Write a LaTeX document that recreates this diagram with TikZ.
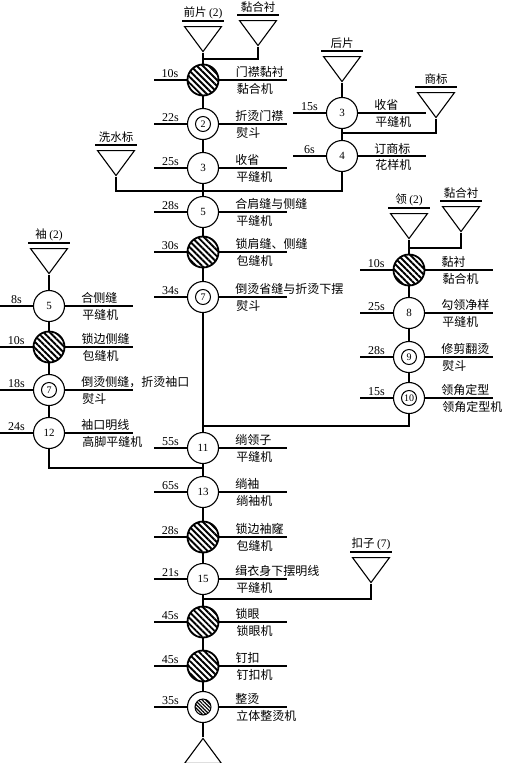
\documentclass[tikz,border=0pt]{standalone}
\usepackage{fontspec}
\setmainfont{Liberation Serif}
\newfontfamily\cjk{Noto Sans CJK SC}
\usepackage{tikz}
\usetikzlibrary{positioning,shapes.geometric,patterns.meta}

\newcommand{\station}[7]{%
  \node[#3] (#1) at (#2) {#4};
  \draw[rule] (#1.west) -- ++(-33,0) node[tm,midway,above] (#1t) {#5};
  \draw[rule] (#1.east) -- ++(68,0) node[opt,pos=0.21,above right] (#1o) {#6} node[opt,pos=0.21,below right,inner sep=2.5pt] (#1m) {#7};
}
\newcommand{\feed}[3]{%
  \node[feed,anchor=apex] (#1) at (#2) {};
  \draw[rule] ([shift={(-21pt,5pt)}]#1.lower side) -- ([shift={(21pt,5pt)}]#1.lower side) node[feedlab,midway,above] (#1l) {#3};
}

\begin{document}
\begin{tikzpicture}[x=1pt,y=-1pt,
  plain/.style={circle,draw,line width=1.1pt,minimum size=31pt,inner sep=0pt,fill=white,font=\fontsize{11}{11}\selectfont},
  hatch/.style={plain,line width=1.8pt,pattern={Lines[angle=-45,distance=4.3pt,line width=1.9pt]}},
  dbl/.style={plain,font=\fontsize{10}{10}\selectfont,path picture={\draw[line width=1pt] (path picture bounding box.center) circle (7.5pt);}},
  dblhatch/.style={plain,path picture={\draw[line width=1pt,pattern={Lines[angle=-45,distance=2.5pt,line width=1.2pt]}] (path picture bounding box.center) circle (8pt);}},
  feed/.style={isosceles triangle,isosceles triangle stretches,shape border rotate=-90,draw,line width=1.1pt,minimum width=37pt,minimum height=25pt,inner sep=0pt},
  rule/.style={line width=1.1pt},
  link/.style={line width=1.1pt},
  tm/.style={font=\fontsize{12}{12}\selectfont,inner sep=1.5pt},
  opt/.style={font=\cjk\fontsize{12}{12}\selectfont,inner sep=1.5pt},
  feedlab/.style={font=\cjk\fontsize{11.5}{12}\selectfont,inner sep=2pt}]
  \useasboundingbox (0,0) rectangle (504,763);

  \feed{f1}{203,53}{前片 {\rmfamily(2)}}
  \feed{f2}{258,47}{黏合衬}
  \feed{f3}{342,83}{后片}
  \feed{f4}{436,119}{商标}
  \feed{f5}{116,177}{洗水标}
  \feed{f6}{49,275}{袖 {\rmfamily(2)}}
  \feed{f7}{409,240}{领 {\rmfamily(2)}}
  \feed{f8}{461,233}{黏合衬}
  \feed{f9}{371,584}{扣子 {\rmfamily(7)}}
  \node[feed,shape border rotate=90,anchor=apex] (out) at (203,737) {};

  \station{m1}{203,80}{hatch}{}{10s}{门襟黏衬}{黏合机}
  \station{m2}{203,124}{dbl}{2}{22s}{折烫门襟}{熨斗}
  \station{m3}{203,168}{plain}{3}{25s}{收省}{平缝机}
  \station{m5}{203,212}{plain}{5}{28s}{合肩缝与侧缝}{平缝机}
  \station{m6}{203,252}{hatch}{}{30s}{锁肩缝、侧缝}{包缝机}
  \station{m7}{203,297}{dbl}{7}{34s}{倒烫省缝与折烫下摆}{熨斗}
  \station{m11}{203,448}{plain}{11}{55s}{绱领子}{平缝机}
  \station{m13}{203,492}{plain}{13}{65s}{绱袖}{绱袖机}
  \station{m14}{203,537}{hatch}{}{28s}{锁边袖窿}{包缝机}
  \station{m15}{203,579}{plain}{15}{21s}{缉衣身下摆明线}{平缝机}
  \station{m16}{203,622}{hatch}{}{45s}{锁眼}{锁眼机}
  \station{m17}{203,666}{hatch}{}{45s}{钉扣}{钉扣机}
  \station{m18}{203,707}{dblhatch}{}{35s}{整烫}{立体整烫机}

  \station{b3}{342,113}{plain}{3}{15s}{收省}{平缝机}
  \station{b4}{342,156}{plain}{4}{6s}{订商标}{花样机}

  \station{s5}{49,306}{plain}{5}{8s}{合侧缝}{平缝机}
  \station{s6}{49,347}{hatch}{}{10s}{锁边侧缝}{包缝机}
  \station{s7}{49,390}{dbl}{7}{18s}{倒烫侧缝，折烫袖口}{熨斗}
  \station{s12}{49,433}{plain}{12}{24s}{袖口明线}{高脚平缝机}

  \station{c1}{409,270}{hatch}{}{10s}{黏衬}{黏合机}
  \station{c8}{409,313}{plain}{8}{25s}{勾领净样}{平缝机}
  \station{c9}{409,357}{dbl}{9}{28s}{修剪翻烫}{熨斗}
  \station{c10}{409,398}{dbl}{10}{15s}{领角定型}{领角定型机}

  \coordinate (j1) at (203,59);
  \coordinate (j2) at (342,133);
  \coordinate (j3) at (203,191);
  \coordinate (j4) at (409,248);
  \coordinate (j5) at (203,426);
  \coordinate (j6) at (203,468);
  \coordinate (j7) at (203,599);

  \draw[link] (f1.apex) -- (m1) -- (m2) -- (m3) -- (m5) -- (m6) -- (m7) -- (m11) -- (m13) -- (m14) -- (m15) -- (m16) -- (m17) -- (m18) -- (out.apex);
  \draw[link] (f2.apex) |- (j1);
  \draw[link] (f3.apex) -- (b3) -- (b4) |- (j3);
  \draw[link] (f4.apex) |- (j2);
  \draw[link] (f5.apex) |- (j3);
  \draw[link] (f6.apex) -- (s5) -- (s6) -- (s7) -- (s12) |- (j6);
  \draw[link] (f7.apex) -- (c1) -- (c8) -- (c9) -- (c10) |- (j5);
  \draw[link] (f8.apex) |- (j4);
  \draw[link] (f9.apex) |- (j7);
\end{tikzpicture}
\end{document}
